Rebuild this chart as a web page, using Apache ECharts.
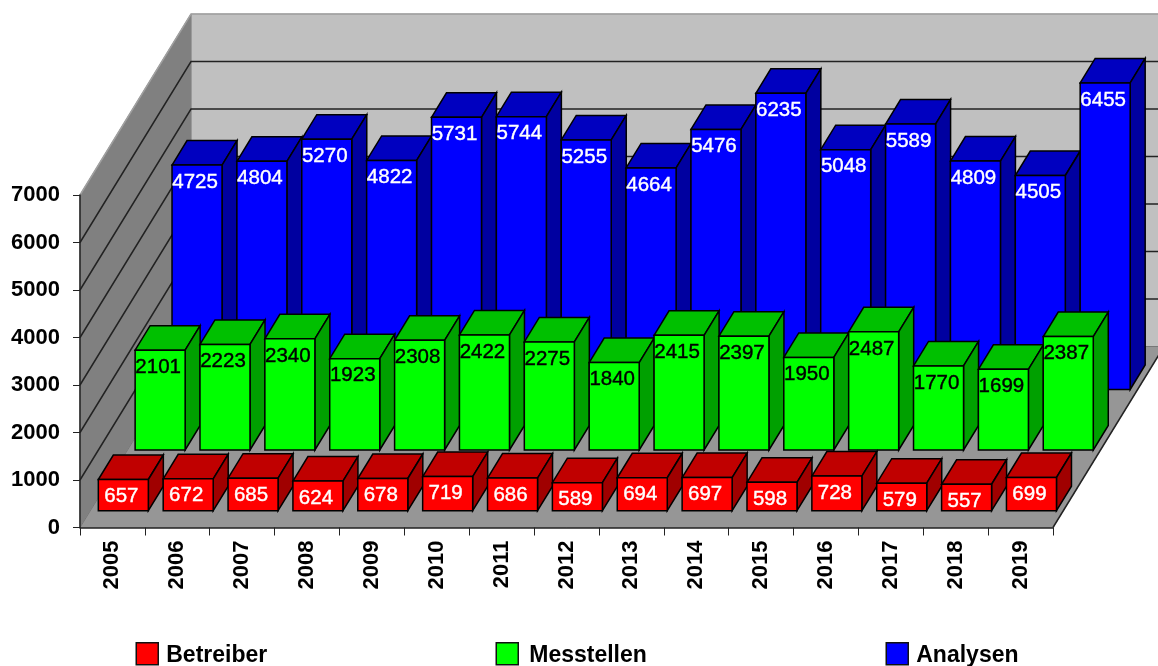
<!DOCTYPE html>
<html>
<head>
<meta charset="utf-8">
<style>
html, body { margin: 0; padding: 0; background: #fff; }
#main { width: 1158px; height: 666px; }
</style>
<script src="https://cdn.jsdelivr.net/npm/echarts@6/dist/echarts.min.js"></script>
</head>
<body>
<div id="main"></div>
<script>
var years = ['2005','2006','2007','2008','2009','2010','2011','2012','2013','2014','2015','2016','2017','2018','2019'];
var betreiber = [657, 672, 685, 624, 678, 719, 686, 589, 694, 697, 598, 728, 579, 557, 699];
var messtellen = [2101, 2223, 2340, 1923, 2308, 2422, 2275, 1840, 2415, 2397, 1950, 2487, 1770, 1699, 2387];
var analysen = [4725, 4804, 5270, 4822, 5731, 5744, 5255, 4664, 5476, 6235, 5048, 5589, 4809, 4505, 6455];
var yTicks = [0, 1000, 2000, 3000, 4000, 5000, 6000, 7000];

var font = '"Liberation Sans", Arial, sans-serif';

// Tiefe der Wand und der Saeulen in Pixel
var wallDx = 111, wallDy = -181;
var barDx = 15, barDy = -24.5;

function poly(points, fill, stroke, lineWidth) {
    return {
        type: 'polygon',
        shape: { points: points },
        style: { fill: fill, stroke: stroke, lineWidth: lineWidth }
    };
}

function walls(params, api) {
    var c = params.coordSys;
    var l = c.x, r = c.x + c.width, t = c.y, b = c.y + c.height;
    return {
        type: 'group',
        children: [
            poly([[l + wallDx, t + wallDy], [r + wallDx, t + wallDy], [r + wallDx, b + wallDy], [l + wallDx, b + wallDy]], '#c0c0c0', '#a8a8a8', 1),
            poly([[l, t], [l + wallDx, t + wallDy], [l + wallDx, b + wallDy], [l, b]], '#808080', '#808080', 1),
            poly([[l, b], [r, b], [r + wallDx, b + wallDy], [l + wallDx, b + wallDy]], '#969696', '#969696', 1),
            { type: 'line', shape: { x1: r, y1: b, x2: r + wallDx, y2: b + wallDy }, style: { stroke: '#222', lineWidth: 1.5 } }
        ]
    };
}

function gridLine(params, api) {
    var c = params.coordSys;
    var v = api.value(0);
    var p = api.coord([0, v]);
    var y = p[1];
    var color = v === 7000 ? '#a0a0a0' : (v === 0 ? '#6e6e6e' : '#222');
    var width = v === 0 ? 0.8 : 1.5;
    return {
        type: 'polyline',
        shape: { points: [[c.x, y], [c.x + wallDx, y + wallDy], [c.x + c.width + wallDx, y + wallDy]] },
        style: { fill: null, stroke: color, lineWidth: width }
    };
}

function barSeries(name, values, shiftX, shiftY, colors, textColor, z) {
    return {
        name: name,
        type: 'custom',
        z: z,
        itemStyle: { color: colors[0] },
        encode: { x: 0, y: 1 },
        data: values.map(function (v, i) { return [i, v]; }),
        renderItem: function (params, api) {
            var top = api.coord([api.value(0), api.value(1)]);
            var base = api.coord([api.value(0), 0]);
            var w = api.size([1, 0])[0] * 0.771;
            var x0 = top[0] - w / 2 + shiftX, x1 = x0 + w;
            var y0 = top[1] + shiftY, y1 = base[1] + shiftY;
            return {
                type: 'group',
                children: [
                    poly([[x0, y0], [x0 + barDx, y0 + barDy], [x1 + barDx, y0 + barDy], [x1, y0]], colors[1], '#000', 1.5),
                    poly([[x1, y0], [x1 + barDx, y0 + barDy], [x1 + barDx, y1 + barDy], [x1, y1]], colors[2], '#000', 1.5),
                    poly([[x0, y0], [x1, y0], [x1, y1], [x0, y1]], colors[0], '#000', 1.5),
                    {
                        type: 'text',
                        style: {
                            x: (x0 + x1) / 2 - 2,
                            y: y0 + 17,
                            text: String(api.value(1)),
                            fill: textColor,
                            stroke: textColor,
                            lineWidth: 0.4,
                            font: '20.5px ' + font,
                            align: 'center',
                            verticalAlign: 'middle'
                        }
                    }
                ]
            };
        }
    };
}

function legendAt(name, left, textGap) {
    return {
        data: [name],
        left: left,
        top: 642,
        padding: 0,
        itemWidth: 22,
        itemHeight: 22,
        selectedMode: false,
        icon: 'rect',
        itemStyle: { borderColor: '#111', borderWidth: 1.5 },
        formatter: '{a|{name}}',
        textStyle: {
            rich: {
                a: { fontFamily: font, fontSize: 23, fontWeight: 'bold', color: '#000', padding: [4, 0, 0, textGap] }
            }
        }
    };
}

var chart = echarts.init(document.getElementById('main'));
chart.setOption({
    animation: false,
    backgroundColor: '#fff',
    textStyle: { fontFamily: font },
    grid: { left: 80, right: 105, top: 195, bottom: 138.5 },
    legend: [legendAt('Betreiber', 135.5, 3), legendAt('Messtellen', 495.5, 6), legendAt('Analysen', 885.5, 3)],
    xAxis: {
        type: 'category',
        data: years,
        z: 10,
        axisLine: { lineStyle: { color: '#222', width: 1.5 } },
        axisTick: { show: true, alignWithLabel: false, length: 8, lineStyle: { color: '#222', width: 1 } },
        axisLabel: { interval: 0, rotate: 90, margin: 13, color: '#000', fontFamily: font, fontSize: 22, fontWeight: 'bold' },
        splitLine: { show: false }
    },
    yAxis: {
        type: 'value',
        min: 0,
        max: 7000,
        interval: 1000,
        z: 10,
        axisLine: { show: true, lineStyle: { color: '#222', width: 1.5 } },
        axisTick: { show: true, length: 7, lineStyle: { color: '#222', width: 1 } },
        axisLabel: { margin: 20, color: '#000', fontFamily: font, fontSize: 22, fontWeight: 'bold', formatter: function (v) { return String(v); } },
        splitLine: { show: false }
    },
    series: [
        { type: 'custom', z: 1, silent: true, data: [[0, 0]], renderItem: walls },
        { type: 'custom', z: 1, silent: true, data: yTicks.map(function (v) { return [v]; }), encode: { y: 0 }, renderItem: gridLine },
        barSeries('Analysen', analysen, 84.6, -138, ['#0000ff', '#0000c0', '#0000a0'], '#fff', 2),
        barSeries('Messtellen', messtellen, 47.7, -77.5, ['#00ff00', '#00c000', '#00a000'], '#000', 3),
        barSeries('Betreiber', betreiber, 10.9, -16.8, ['#ff0000', '#c00000', '#a00000'], '#fff', 4)
    ]
});
</script>
</body>
</html>
